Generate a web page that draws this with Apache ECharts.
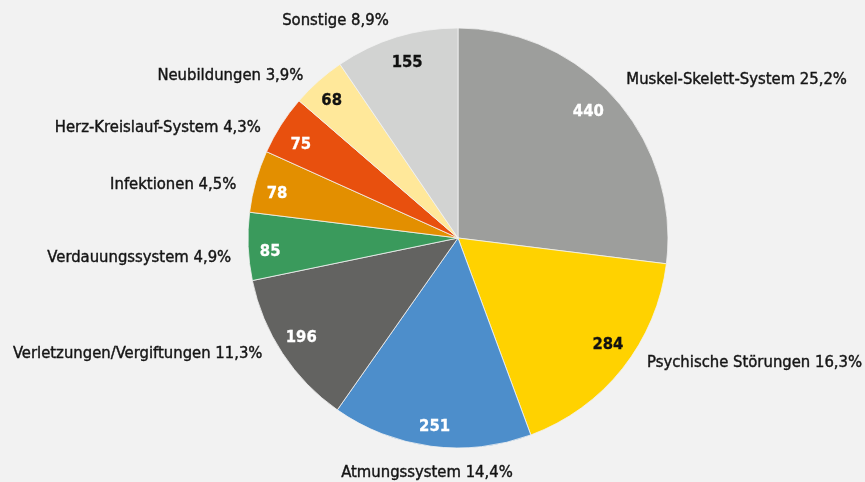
<!DOCTYPE html>
<html>
<head>
<meta charset="utf-8">
<script src="https://cdn.jsdelivr.net/npm/echarts@6/dist/echarts.min.js"></script>
<style>
  html, body { margin: 0; padding: 0; background: #f2f2f2; }
  #chart { width: 865px; height: 482px; }
</style>
</head>
<body>
<div id="chart"></div>
<script>
// Arbeitsunfähigkeitsfälle nach Diagnosegruppen
const categories = [
  'Muskel-Skelett-System',
  'Psychische Störungen',
  'Atmungssystem',
  'Verletzungen/Vergiftungen',
  'Verdauungssystem',
  'Infektionen',
  'Herz-Kreislauf-System',
  'Neubildungen',
  'Sonstige'
];
const values = [440, 284, 251, 196, 85, 78, 75, 68, 155];
const shares = ['25,2%', '16,3%', '14,4%', '11,3%', '4,9%', '4,5%', '4,3%', '3,9%', '8,9%'];

const colors = ['#9d9e9c', '#ffd200', '#4d8ecb', '#636361', '#3a9a5c', '#e38f00', '#e8500e', '#ffe89a', '#d2d3d2'];
const valueTextColors = ['#ffffff', '#111111', '#ffffff', '#ffffff', '#ffffff', '#ffffff', '#ffffff', '#111111', '#111111'];

const FONT = '"Liberation Sans Narrow", "DejaVu Sans Condensed", "Roboto Condensed", "Noto Sans", sans-serif';

// small hand adjustments of label placement [dx, dy], by slice order
const outerNudge = [[-7, -11], [6, -13], [-8, 4], [-1, -6], [4, 11], [1, 7], [-1, 9], [2, 3], [5, -5]];
const innerNudge = [[-12, 0], [1, -11], [1, 0], [2, -5], [2, 6], [2, 7], [3, 9], [0, 5], [5, 6]];

const pieData = categories.map((name, i) => ({
  name,
  value: values[i],
  itemStyle: { color: colors[i] }
}));

const valueData = categories.map((name, i) => ({
  name,
  value: values[i],
  label: { color: valueTextColors[i], textBorderColor: valueTextColors[i] }
}));

const chart = echarts.init(document.getElementById('chart'), null, { renderer: 'canvas' });
chart.setOption({
  backgroundColor: '#f2f2f2',
  animation: false,
  series: [
    {
      type: 'pie',
      center: [458, 238],
      radius: [0, 210],
      startAngle: 90,
      clockwise: true,
      avoidLabelOverlap: false,
      silent: true,
      itemStyle: { borderColor: '#f2f2f2', borderWidth: 0.8 },
      label: {
        show: true,
        position: 'outside',
        formatter: p => p.name + ' ' + shares[p.dataIndex],
        fontFamily: FONT,
        fontSize: 16.5,
        fontWeight: 500,
        color: '#141414',
        textBorderColor: '#141414',
        textBorderWidth: 0.4
      },
      labelLine: { show: false, length: 12, length2: 4 },
      labelLayout: function (params) {
        const i = params.dataIndex;
        if (i === 2) {
          // bottom label sits centred under the pie
          const pts = params.labelLinePoints;
          return { x: pts[0][0] + 4 + outerNudge[i][0], y: pts[0][1] + 22 + outerNudge[i][1], align: 'center' };
        }
        return { dx: outerNudge[i][0], dy: outerNudge[i][1] };
      },
      data: pieData
    },
    {
      type: 'pie',
      center: [458, 238],
      radius: [164, 210],
      startAngle: 90,
      clockwise: true,
      silent: true,
      itemStyle: { color: 'rgba(0,0,0,0)' },
      label: {
        show: true,
        position: 'inside',
        formatter: p => String(p.value),
        fontFamily: FONT,
        fontSize: 16.5,
        fontWeight: 'bold',
        textBorderWidth: 0.3
      },
      labelLine: { show: false },
      labelLayout: function (params) {
        const i = params.dataIndex;
        return { dx: innerNudge[i][0], dy: innerNudge[i][1] };
      },
      data: valueData
    }
  ]
});
</script>
</body>
</html>
